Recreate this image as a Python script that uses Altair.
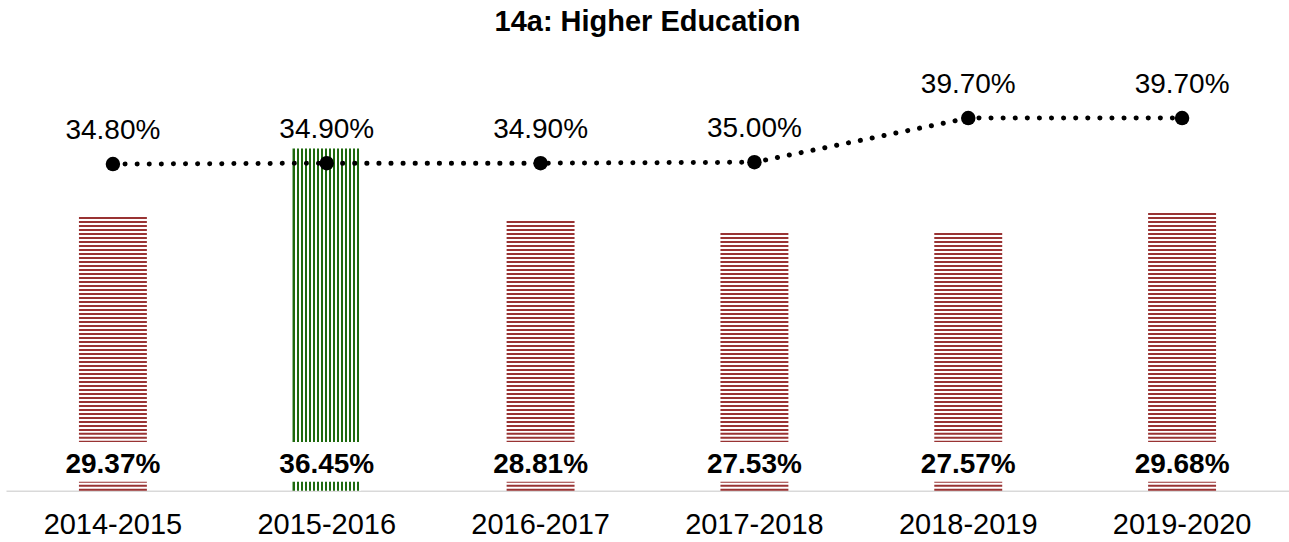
import altair as alt
import pandas as pd

FONT = "Liberation Sans"

years = ["2014-2015", "2015-2016", "2016-2017", "2017-2018", "2018-2019", "2019-2020"]
rates = [29.37, 36.45, 28.81, 27.53, 27.57, 29.68]
averages = [34.80, 34.90, 34.90, 35.00, 39.70, 39.70]
highlight_year = "2015-2016"

MAROON = "#993333"
GREEN = "#1f6a0f"

df = pd.DataFrame({"year": years, "rate": rates, "avg": averages})
df_norm = df[df["year"] != highlight_year]
df_high = df[df["year"] == highlight_year]

# vertical-stripe pattern for the highlighted bar (style only)
n_stripes = 17
duty = 0.58
stops = []
for i in range(n_stripes):
    a = i / n_stripes
    b = (i + duty) / n_stripes
    c = (i + 1) / n_stripes
    stops += [
        alt.GradientStop(color=GREEN, offset=a),
        alt.GradientStop(color=GREEN, offset=b),
        alt.GradientStop(color="white", offset=b),
        alt.GradientStop(color="white", offset=c),
    ]
green_fill = alt.LinearGradient(gradient="linear", stops=stops, x1=0, x2=1, y1=0, y2=0)

x_enc = alt.X(
    "year:N",
    sort=years,
    scale=alt.Scale(paddingInner=0.68, paddingOuter=0.34),
    axis=alt.Axis(
        title=None,
        labelAngle=0,
        labelFontSize=29,
        labelFont=FONT,
        labelColor="black",
        ticks=False,
        domainColor="#d9d9d9",
        domainWidth=1.5,
        labelPadding=20,
        grid=False,
    ),
)
y_scale = alt.Scale(domain=[0, 48], nice=False, zero=True)

base = alt.Chart(df).encode(x=x_enc)

# maroon bars with horizontal stripes (dashed thick rule drawn from the baseline up)
bars = alt.Chart(df_norm).transform_calculate(base0="0").mark_rule(
    color=MAROON, strokeWidth=68, strokeDash=[2, 2], strokeCap="butt"
).encode(
    x=x_enc,
    y=alt.Y("base0:Q", scale=y_scale, axis=None),
    y2=alt.Y2("rate:Q"),
)

green_bar = alt.Chart(df_high).mark_bar(fill=green_fill, strokeWidth=0).encode(
    x=x_enc,
    y=alt.Y("rate:Q", scale=y_scale, axis=None),
    y2=alt.Y2(datum=0),
)

label_box = base.mark_bar(color="white", size=100).encode(
    y=alt.Y(datum=5.2, scale=y_scale, axis=None),
    y2=alt.Y2(datum=0.96),
)

bar_labels = base.transform_calculate(
    lab="format(datum.rate, '.2f') + '%'"
).mark_text(
    font=FONT, fontSize=28, fontWeight="bold", color="black", baseline="alphabetic"
).encode(
    y=alt.Y(datum=1.92, scale=y_scale, axis=None),
    text="lab:N",
)

line = base.mark_line(
    color="black", strokeWidth=5, strokeDash=[0.1, 12], strokeCap="round"
).encode(y=alt.Y("avg:Q", scale=y_scale, axis=None))

points = base.mark_point(filled=True, size=210, color="black", opacity=1).encode(
    y=alt.Y("avg:Q", scale=y_scale, axis=None)
)

line_labels = base.transform_calculate(
    lab="format(datum.avg, '.2f') + '%'"
).mark_text(
    font=FONT, fontSize=28, color="black", baseline="alphabetic", dy=-25
).encode(
    y=alt.Y("avg:Q", scale=y_scale, axis=None),
    text="lab:N",
)

chart = (
    alt.layer(bars, green_bar, label_box, bar_labels, line, points, line_labels)
    .properties(
        width=1284,
        height=451,
        title=alt.TitleParams(
            "14a: Higher Education",
            font=FONT,
            fontSize=29,
            fontWeight="bold",
            color="black",
            anchor="middle",
            offset=3,
        ),
        padding={"left": 6, "top": 8, "right": 0, "bottom": 0},
        background="white",
    )
    .configure_view(strokeWidth=0, stroke=None)
)

chart.save("out.html", embed_options={"renderer": "svg", "actions": False})
